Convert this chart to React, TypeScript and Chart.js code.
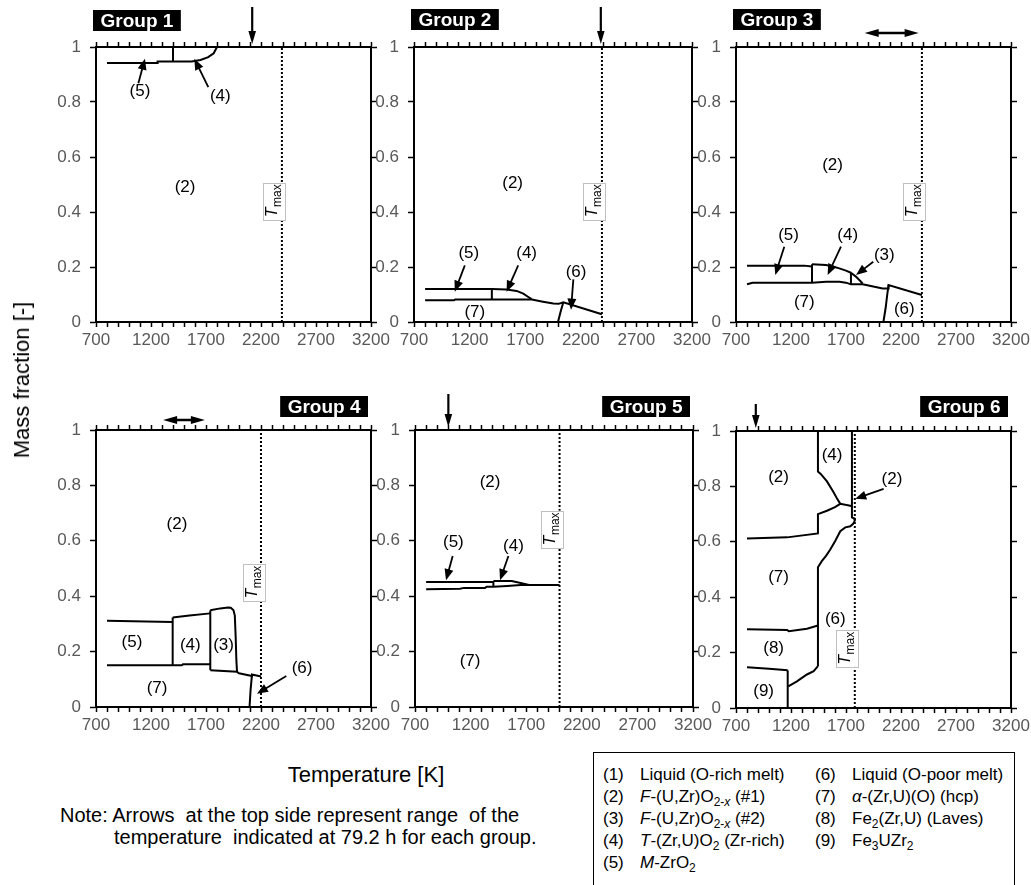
import React, { useEffect, useRef } from 'react';
import { Chart, registerables } from 'chart.js';
Chart.register(...registerables);

type P = [number, number];
type Lbl = [string, number, number];
type Arr = [number, number, number, number];

const FONT = "'Liberation Sans', Arial, Helvetica, sans-serif";

// ---------- axes ----------
const T_MIN = 700;
const T_MAXAX = 3200;
const T_STEP = 100;
const T_TICK_LABELS = [700, 1200, 1700, 2200, 2700, 3200];
const FRAC_STEP = 0.2;

// ---------- per-group values ----------
const GROUP_NAMES = ['Group 1', 'Group 2', 'Group 3', 'Group 4', 'Group 5', 'Group 6'];
const T_MAX = [2390, 2390, 2390, 2200, 2000, 1780];
const T_MAX_TAG_Y = [0.44, 0.44, 0.44, 0.45, 0.642, 0.215];
// one value = single arrow, two values = range (double arrow)
const TOP_MARK: number[][] = [[2120], [2380], [1870, 2360], [1310, 1690], [1000], [880]];

const G1_LINES: P[][] = [
  [[800, 0.942], [1255, 0.942], [1260, 0.947], [1400, 0.947], [1570, 0.947], [1650, 0.953], [1720, 0.963], [1770, 0.977], [1800, 1.0]],
  [[1400, 0.947], [1400, 1.0]],
];
const G1_LABELS: Lbl[] = [['(5)', 1100, 0.84], ['(4)', 1830, 0.82], ['(2)', 1510, 0.49]];
const G1_ARROWS: Arr[] = [[1085, 0.868, 1145, 0.957], [1721, 0.854, 1594, 0.957]];

const G2_LINES: P[][] = [
  [[800, 0.12], [1400, 0.12], [1533, 0.118], [1623, 0.113], [1683, 0.103], [1728, 0.091], [1758, 0.083]],
  [[1400, 0.082], [1400, 0.12]],
  [[800, 0.079], [1060, 0.079], [1070, 0.082], [1760, 0.082], [1860, 0.074], [1953, 0.067], [2000, 0.066], [2043, 0.072], [2390, 0.028]],
  [[1995, 0], [2020, 0.04], [2043, 0.072]],
];
const G2_LABELS: Lbl[] = [['(2)', 1587, 0.505], ['(5)', 1193, 0.25], ['(4)', 1713, 0.25], ['(6)', 2157, 0.18], ['(7)', 1247, 0.036]];
const G2_ARROWS: Arr[] = [[1157, 0.206, 1067, 0.11], [1637, 0.206, 1533, 0.11], [2133, 0.155, 2112, 0.045]];

const G3_LINES: P[][] = [
  [[800, 0.205], [1320, 0.205], [1391, 0.202]],
  [[1391, 0.143], [1391, 0.21]],
  [[1391, 0.21], [1518, 0.207], [1580, 0.202], [1639, 0.195], [1700, 0.187], [1745, 0.179]],
  [[1745, 0.137], [1745, 0.179]],
  [[1745, 0.179], [1790, 0.165], [1830, 0.149], [1851, 0.14]],
  [[800, 0.137], [851, 0.143], [1391, 0.143], [1520, 0.146], [1640, 0.146], [1700, 0.143], [1745, 0.137], [1851, 0.137], [2033, 0.122], [2087, 0.122], [2087, 0.134], [2390, 0.098]],
  [[2040, 0], [2060, 0.05], [2075, 0.1], [2087, 0.134]],
];
const G3_LABELS: Lbl[] = [['(2)', 1578, 0.568], ['(5)', 1178, 0.316], ['(4)', 1715, 0.316], ['(3)', 2048, 0.243], ['(7)', 1321, 0.07], ['(6)', 2230, 0.046]];
const G3_ARROWS: Arr[] = [[1139, 0.274, 1057, 0.171], [1654, 0.274, 1533, 0.171], [1948, 0.219, 1791, 0.171]];

const G4_LINES: P[][] = [
  [[800, 0.311], [1391, 0.307]],
  [[1397, 0.151], [1397, 0.323]],
  [[1397, 0.323], [1550, 0.33], [1739, 0.338]],
  [[1739, 0.133], [1739, 0.349]],
  [[1739, 0.349], [1830, 0.356], [1900, 0.359], [1925, 0.358], [1950, 0.349], [1962, 0.33], [1970, 0.25], [1976, 0.17], [1982, 0.127]],
  [[800, 0.151], [1480, 0.151], [1490, 0.154], [1739, 0.154]],
  [[1739, 0.133], [1982, 0.127], [2000, 0.122], [2118, 0.112], [2118, 0.117], [2200, 0.11]],
  [[2096, 0], [2105, 0.06], [2118, 0.117]],
];
const G4_LABELS: Lbl[] = [['(2)', 1436, 0.66], ['(5)', 1027, 0.235], ['(4)', 1557, 0.223], ['(3)', 1860, 0.223], ['(7)', 1255, 0.066], ['(6)', 2573, 0.139]];
const G4_ARROWS: Arr[] = [[2430, 0.112, 2163, 0.048]];

const G5_LINES: P[][] = [
  [[800, 0.451], [1405, 0.451]],
  [[1405, 0.434], [1405, 0.455]],
  [[1405, 0.455], [1570, 0.455], [1650, 0.448], [1735, 0.44]],
  [[800, 0.425], [1105, 0.427], [1140, 0.43], [1330, 0.43], [1345, 0.434], [1405, 0.434], [1530, 0.437], [1650, 0.44], [1735, 0.44], [2000, 0.44]],
];
const G5_LABELS: Lbl[] = [['(2)', 1375, 0.81], ['(5)', 1045, 0.593], ['(4)', 1585, 0.581], ['(7)', 1195, 0.165]];
const G5_ARROWS: Arr[] = [[1039, 0.545, 979, 0.458], [1540, 0.545, 1465, 0.458]];

const G6_LINES: P[][] = [
  [[800, 0.147], [1000, 0.142], [1170, 0.136]],
  [[1170, 0], [1170, 0.136]],
  [[1175, 0.078], [1254, 0.096], [1345, 0.121], [1406, 0.133], [1445, 0.151]],
  [[800, 0.284], [1165, 0.282], [1180, 0.277], [1345, 0.286], [1445, 0.298]],
  [[1445, 0.151], [1445, 0.508], [1480, 0.53], [1520, 0.55], [1557, 0.572], [1603, 0.604], [1648, 0.638], [1694, 0.652], [1740, 0.656], [1765, 0.665], [1780, 0.675]],
  [[800, 0.612], [1165, 0.616], [1445, 0.63], [1445, 0.7], [1527, 0.712], [1600, 0.725], [1648, 0.737], [1739, 0.73], [1754, 0.728]],
  [[1445, 1], [1445, 0.854], [1470, 0.845], [1527, 0.818], [1587, 0.779], [1620, 0.755], [1648, 0.737]],
  [[1754, 1], [1754, 0.688], [1776, 0.684], [1780, 0.675]],
];
const G6_LABELS: Lbl[] = [['(4)', 1573, 0.912], ['(2)', 1087, 0.833], ['(2)', 2118, 0.827], ['(7)', 1087, 0.471], ['(6)', 1603, 0.32], ['(8)', 1042, 0.217], ['(9)', 951, 0.06]];
const G6_ARROWS: Arr[] = [[2042, 0.791, 1784, 0.755]];

const ALL_LINES = [G1_LINES, G2_LINES, G3_LINES, G4_LINES, G5_LINES, G6_LINES];
const ALL_LABELS = [G1_LABELS, G2_LABELS, G3_LABELS, G4_LABELS, G5_LABELS, G6_LABELS];
const ALL_ARROWS = [G1_ARROWS, G2_ARROWS, G3_ARROWS, G4_ARROWS, G5_ARROWS, G6_ARROWS];

// ---------- legend ----------
const LEGEND_LEFT = [
  ['(1)', 'Liquid (O-rich melt)'],
  ['(2)', '<i>F</i>-(U,Zr)O<sub>2-<i>x</i></sub> (#1)'],
  ['(3)', '<i>F</i>-(U,Zr)O<sub>2-<i>x</i></sub> (#2)'],
  ['(4)', '<i>T</i>-(Zr,U)O<sub>2</sub> (Zr-rich)'],
  ['(5)', '<i>M</i>-ZrO<sub>2</sub>'],
];
const LEGEND_RIGHT = [
  ['(6)', 'Liquid (O-poor melt)'],
  ['(7)', '<i>α</i>-(Zr,U)(O) (hcp)'],
  ['(8)', 'Fe<sub>2</sub>(Zr,U) (Laves)'],
  ['(9)', 'Fe<sub>3</sub>UZr<sub>2</sub>'],
];

// ---------- layout (pixels) ----------
const LAYOUT = [
  { left: 96, top: 47, w: 275, h: 275, canvasTop: 0, titleTop: 10, side: 'left', arrowLen: 40, rangeDy: 14 },
  { left: 414, top: 47, w: 278, h: 275, canvasTop: 0, titleTop: 9, side: 'left', arrowLen: 40, rangeDy: 14 },
  { left: 736, top: 47, w: 275, h: 275, canvasTop: 0, titleTop: 9, side: 'left', arrowLen: 40, rangeDy: 14 },
  { left: 96, top: 430, w: 275, h: 277, canvasTop: 385, titleTop: 396, side: 'right', arrowLen: 36, rangeDy: 10 },
  { left: 415, top: 430, w: 278, h: 277, canvasTop: 385, titleTop: 396, side: 'right', arrowLen: 36, rangeDy: 10 },
  { left: 736, top: 431, w: 275, h: 277, canvasTop: 385, titleTop: 396, side: 'right', arrowLen: 27, rangeDy: 10 },
];
const PAD_L = 66;
const Y2_W = 10;
const PAD_R = 14;
const XTOP_H = 6;
const XBOT_H = 30;
const PAD_B = 6;

function head(ctx: CanvasRenderingContext2D, x1: number, y1: number, x2: number, y2: number, len: number, hw: number) {
  const a = Math.atan2(y2 - y1, x2 - x1);
  const c = Math.cos(a), s = Math.sin(a);
  ctx.beginPath();
  ctx.moveTo(x2, y2);
  ctx.lineTo(x2 - len * c + hw * s, y2 - len * s - hw * c);
  ctx.lineTo(x2 - len * c - hw * s, y2 - len * s + hw * c);
  ctx.closePath();
  ctx.fill();
}
function arrow(ctx: CanvasRenderingContext2D, x1: number, y1: number, x2: number, y2: number, lw: number, len: number, hw: number) {
  const a = Math.atan2(y2 - y1, x2 - x1);
  ctx.lineWidth = lw;
  ctx.beginPath();
  ctx.moveTo(x1, y1);
  ctx.lineTo(x2 - len * 0.8 * Math.cos(a), y2 - len * 0.8 * Math.sin(a));
  ctx.stroke();
  head(ctx, x1, y1, x2, y2, len, hw);
}

function Panel({ idx }: { idx: number }) {
  const ref = useRef<HTMLCanvasElement>(null);
  const L = LAYOUT[idx];
  const padTop = L.top - XTOP_H - L.canvasTop;
  const cw = PAD_L + L.w + Y2_W + PAD_R;
  const ch = padTop + XTOP_H + L.h + XBOT_H + PAD_B;
  const cl = L.left - PAD_L;

  useEffect(() => {
    const lines = ALL_LINES[idx];
    const datasets: any[] = lines.map((ln) => ({
      data: ln.map(([x, y]) => ({ x, y })),
      borderColor: '#000',
      borderWidth: 2,
      pointRadius: 0,
      pointHoverRadius: 0,
      showLine: true,
      fill: false,
      tension: 0,
    }));
    datasets.push({
      data: [{ x: T_MAX[idx], y: 0 }, { x: T_MAX[idx], y: 1 }],
      borderColor: '#000',
      borderWidth: 2,
      borderDash: [2, 2],
      pointRadius: 0,
      showLine: true,
      fill: false,
    });

    const tickFont = { family: FONT, size: 17 };
    const grid = { display: true, drawOnChartArea: false, drawTicks: true, tickLength: 5, tickColor: '#000', tickWidth: 1.5 };
    const border = { display: true, color: '#000', width: 2 };
    const xBase = { type: 'linear', min: T_MIN, max: T_MAXAX, grid, border };
    const yBase = { type: 'linear', min: 0, max: 1, grid: { ...grid, tickLength: 6 }, border };

    const annot = {
      id: 'annot' + idx,
      afterDraw(chart: any) {
        const { ctx, chartArea: a, scales } = chart;
        const px = (v: number) => scales.x.getPixelForValue(v);
        const py = (v: number) => scales.y.getPixelForValue(v);
        ctx.save();
        ctx.fillStyle = '#000';
        ctx.strokeStyle = '#000';
        ctx.lineCap = 'butt';

        // region labels
        ctx.font = `17px ${FONT}`;
        ctx.textAlign = 'center';
        ctx.textBaseline = 'middle';
        for (const [t, x, y] of ALL_LABELS[idx]) ctx.fillText(t, px(x), py(y));

        // pointer arrows
        for (const [x1, y1, x2, y2] of ALL_ARROWS[idx]) arrow(ctx, px(x1), py(y1), px(x2), py(y2), 1.8, 11, 4.5);

        // top marks
        const m = TOP_MARK[idx];
        if (m.length === 1) {
          const x = px(m[0]);
          arrow(ctx, x, a.top - L.arrowLen, x, a.top - 3, 2.2, 13, 3.8);
        } else {
          const x1 = px(m[0]), x2 = px(m[1]), y = a.top - L.rangeDy;
          ctx.lineWidth = 2.5;
          ctx.beginPath();
          ctx.moveTo(x1 + 10, y);
          ctx.lineTo(x2 - 10, y);
          ctx.stroke();
          head(ctx, x2, y, x1, y, 14, 4);
          head(ctx, x1, y, x2, y, 14, 4);
        }

        // Tmax tag
        const tx = px(T_MAX[idx]) - 7.5;
        const ty = py(T_MAX_TAG_Y[idx]);
        ctx.fillStyle = '#fff';
        ctx.fillRect(tx - 11, ty - 18.5, 22, 37);
        ctx.strokeStyle = '#c0c0c0';
        ctx.lineWidth = 1;
        ctx.strokeRect(Math.round(tx - 11) + 0.5, Math.round(ty - 18.5) + 0.5, 22, 37);
        ctx.save();
        ctx.translate(tx, ty);
        ctx.rotate(-Math.PI / 2);
        ctx.fillStyle = '#000';
        ctx.textAlign = 'left';
        ctx.textBaseline = 'alphabetic';
        ctx.font = `italic 16px ${FONT}`;
        const wT = ctx.measureText('T').width;
        ctx.font = `12px ${FONT}`;
        const wM = ctx.measureText('max').width;
        const st = -(wT + wM) / 2;
        ctx.font = `italic 16px ${FONT}`;
        ctx.fillText('T', st, 3);
        ctx.font = `12px ${FONT}`;
        ctx.fillText('max', st + wT + 0.5, 7);
        ctx.restore();

        // group title
        ctx.font = `bold 19px ${FONT}`;
        const name = GROUP_NAMES[idx];
        const tw = ctx.measureText(name).width;
        const bw = tw + 15, bh = 21;
        const bx = L.side === 'left' ? a.left - 3 : a.right - 3 - bw;
        const by = L.titleTop - L.canvasTop;
        ctx.fillStyle = '#000';
        ctx.fillRect(bx, by, bw, bh);
        ctx.fillStyle = '#fff';
        ctx.textAlign = 'left';
        ctx.textBaseline = 'middle';
        ctx.fillText(name, bx + 7.5, by + bh / 2 + 1);
        ctx.restore();
      },
    };

    const chart = new Chart(ref.current as HTMLCanvasElement, {
      type: 'scatter',
      data: { datasets },
      options: {
        responsive: false,
        animation: false,
        events: [],
        layout: { padding: { top: padTop, left: 0, right: PAD_R, bottom: PAD_B } },
        plugins: { legend: { display: false }, tooltip: { enabled: false }, title: { display: false } },
        scales: {
          x: {
            ...xBase,
            position: 'bottom',
            ticks: {
              stepSize: T_STEP,
              autoSkip: false,
              maxRotation: 0,
              minRotation: 0,
              color: '#595959',
              font: tickFont,
              padding: 3,
              callback: (v: any) => (T_TICK_LABELS.includes(Number(v)) ? String(v) : ''),
            },
            afterFit: (s: any) => { s.height = XBOT_H; s.paddingLeft = 0; s.paddingRight = 0; },
          },
          x2: {
            ...xBase,
            position: 'top',
            ticks: { stepSize: T_STEP, autoSkip: false, display: false },
            afterFit: (s: any) => { s.height = XTOP_H; s.paddingLeft = 0; s.paddingRight = 0; },
          },
          y: {
            ...yBase,
            position: 'left',
            ticks: {
              stepSize: FRAC_STEP,
              color: '#595959',
              font: tickFont,
              padding: 9,
              callback: (v: any) => String(Number(Number(v).toFixed(1))),
            },
            afterFit: (s: any) => { s.width = PAD_L; s.paddingTop = 0; s.paddingBottom = 0; },
          },
          y2: {
            ...yBase,
            position: 'right',
            ticks: { stepSize: FRAC_STEP, display: false },
            afterFit: (s: any) => { s.width = Y2_W; s.paddingTop = 0; s.paddingBottom = 0; },
          },
        },
      } as any,
      plugins: [annot],
    });
    return () => chart.destroy();
  }, [idx]);

  return (
    <canvas
      ref={ref}
      width={cw}
      height={ch}
      style={{ position: 'absolute', left: cl, top: L.canvasTop, width: cw, height: ch }}
    />
  );
}

export default function App() {
  const row = (items: string[][], numX: number, txtX: number) =>
    items.map(([n, t], i) => (
      <React.Fragment key={n}>
        <div style={{ position: 'absolute', left: numX, top: 764 + i * 22, lineHeight: '22px', fontSize: 17, whiteSpace: 'nowrap' }}>{n}</div>
        <div
          className="lg"
          style={{ position: 'absolute', left: txtX, top: 764 + i * 22, lineHeight: '22px', fontSize: 17, whiteSpace: 'nowrap' }}
          dangerouslySetInnerHTML={{ __html: t }}
        />
      </React.Fragment>
    ));
  return (
    <div style={{ position: 'absolute', left: 0, top: 0, width: 1031, height: 885, overflow: 'hidden', background: '#fff', fontFamily: FONT, color: '#000' }}>
      <style>{'.lg sub{font-size:12px;line-height:0;vertical-align:-4px}'}</style>
      {LAYOUT.map((_, i) => (
        <Panel key={i} idx={i} />
      ))}
      <div style={{ position: 'absolute', left: 22, top: 380, transform: 'translate(-50%,-50%) rotate(-90deg)', fontSize: 22, whiteSpace: 'nowrap' }}>
        Mass fraction [-]
      </div>
      <div style={{ position: 'absolute', left: 366, top: 775, transform: 'translate(-50%,-50%)', fontSize: 22, whiteSpace: 'nowrap' }}>
        Temperature [K]
      </div>
      <div style={{ position: 'absolute', left: 60, top: 804, fontSize: 20, lineHeight: '22px', whiteSpace: 'pre' }}>
        {'Note: Arrows  at the top side represent range  of the'}
      </div>
      <div style={{ position: 'absolute', left: 114, top: 826, fontSize: 20, lineHeight: '22px', whiteSpace: 'pre' }}>
        {'temperature  indicated at 79.2 h for each group.'}
      </div>
      <div style={{ position: 'absolute', left: 593, top: 752, width: 422, height: 160, border: '1.5px solid #000', boxSizing: 'border-box' }} />
      {row(LEGEND_LEFT, 603, 640)}
      {row(LEGEND_RIGHT, 815, 852)}
    </div>
  );
}
